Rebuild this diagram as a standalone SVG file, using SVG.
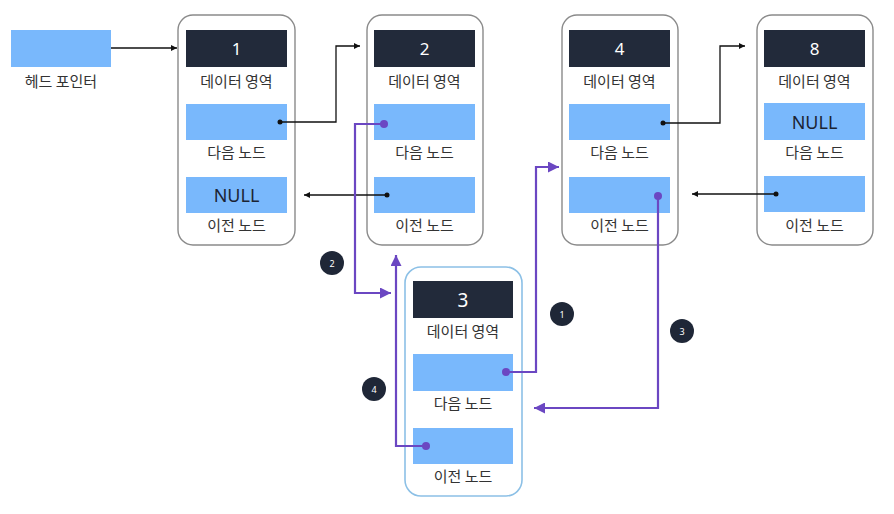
<svg xmlns="http://www.w3.org/2000/svg" width="894" height="514" viewBox="0 0 894 514">
<defs>
<style>
.box{fill:#fff;stroke:#8a8a8a;stroke-width:1.4}
.box3{fill:#fff;stroke:#8cc0e6;stroke-width:1.6}
.dark{fill:#222a3a}
.ptr{fill:#79b8fc}
.num{font-family:"Noto Sans","Noto Sans CJK KR",sans-serif;font-size:17px;fill:#fff;text-anchor:middle}
.lbl{font-family:"Noto Sans CJK KR","Noto Sans",sans-serif;font-size:15px;fill:#333;text-anchor:middle}
.null{font-family:"Noto Sans","Noto Sans CJK KR",sans-serif;font-size:18px;fill:#1c2433;text-anchor:middle}
.bl{fill:none;stroke:#111;stroke-width:1.3}
.pl{fill:none;stroke:#6b47c2;stroke-width:2.2}
.bd{fill:#111}
.pd{fill:#6b47c2}
.badge{fill:#1f2737}
.bt{font-family:"Noto Sans",sans-serif;font-size:9px;fill:#fff;text-anchor:middle}
</style>
<marker id="ab" viewBox="0 0 10 10" refX="10" refY="5" markerWidth="6" markerHeight="6" markerUnits="userSpaceOnUse" orient="auto"><path d="M0,0 L10,5 L0,10 z" fill="#111"/></marker>
<marker id="ap" viewBox="0 0 10 10" refX="10" refY="5" markerWidth="11" markerHeight="11" markerUnits="userSpaceOnUse" orient="auto"><path d="M0,0 L10,5 L0,10 z" fill="#6b47c2"/></marker>
</defs>
<rect width="894" height="514" fill="#fff"/>

<g id="head">
<rect class="ptr" x="11" y="30" width="100" height="37"/>
<text class="lbl" x="61" y="87">헤드 포인터</text>
</g>

<g id="node1">
<rect class="box" x="178" y="15" width="117" height="230" rx="15"/>
<rect class="dark" x="186" y="30" width="101" height="37"/>
<text class="num" x="236.5" y="54.5">1</text>
<text class="lbl" x="236.5" y="87">데이터 영역</text>
<rect class="ptr" x="186" y="104" width="101" height="36"/>
<text class="lbl" x="236.5" y="158">다음 노드</text>
<rect class="ptr" x="186" y="177" width="101" height="36"/>
<text class="null" x="236.5" y="201.5">NULL</text>
<text class="lbl" x="236.5" y="231">이전 노드</text>
</g>

<g id="node2">
<rect class="box" x="367" y="15" width="116" height="230" rx="15"/>
<rect class="dark" x="374" y="30" width="101" height="37"/>
<text class="num" x="424.5" y="54.5">2</text>
<text class="lbl" x="424.5" y="87">데이터 영역</text>
<rect class="ptr" x="374" y="104" width="101" height="36"/>
<text class="lbl" x="424.5" y="158">다음 노드</text>
<rect class="ptr" x="374" y="177" width="101" height="36"/>
<text class="lbl" x="424.5" y="231">이전 노드</text>
</g>

<g id="node4">
<rect class="box" x="562" y="15" width="116" height="230" rx="15"/>
<rect class="dark" x="569" y="30" width="101" height="37"/>
<text class="num" x="619.5" y="54.5">4</text>
<text class="lbl" x="619.5" y="87">데이터 영역</text>
<rect class="ptr" x="569" y="104" width="101" height="36"/>
<text class="lbl" x="619.5" y="158">다음 노드</text>
<rect class="ptr" x="569" y="177" width="101" height="36"/>
<text class="lbl" x="619.5" y="231">이전 노드</text>
</g>

<g id="node8">
<rect class="box" x="757" y="15" width="116" height="230" rx="15"/>
<rect class="dark" x="764" y="30" width="101" height="37"/>
<text class="num" x="814.5" y="54.5">8</text>
<text class="lbl" x="814.5" y="87">데이터 영역</text>
<rect class="ptr" x="764" y="103" width="101" height="37"/>
<text class="null" x="814.5" y="128.5">NULL</text>
<text class="lbl" x="814.5" y="158">다음 노드</text>
<rect class="ptr" x="764" y="176" width="101" height="36"/>
<text class="lbl" x="814.5" y="231">이전 노드</text>
</g>

<g id="node3">
<rect class="box3" x="405" y="267" width="117" height="229" rx="16"/>
<rect class="dark" x="413" y="281" width="100" height="37"/>
<text class="num" x="463" y="306.5" style="font-size:19px">3</text>
<text class="lbl" x="463" y="337">데이터 영역</text>
<rect class="ptr" x="413" y="354" width="100" height="37"/>
<text class="lbl" x="463" y="409">다음 노드</text>
<rect class="ptr" x="413" y="428" width="100" height="36"/>
<text class="lbl" x="463" y="482">이전 노드</text>
</g>

<g id="connectors">
<path class="bl" d="M111,48 H177" marker-end="url(#ab)"/>
<circle class="bd" cx="280" cy="122" r="2.5"/>
<path class="bl" d="M280,122 H336 V46 H360" marker-end="url(#ab)"/>
<circle class="bd" cx="387" cy="195" r="2.5"/>
<path class="bl" d="M387,195 H304" marker-end="url(#ab)"/>
<circle class="bd" cx="663" cy="123" r="2.5"/>
<path class="bl" d="M663,123 H720 V46 H745" marker-end="url(#ab)"/>
<circle class="bd" cx="776" cy="194" r="2.5"/>
<path class="bl" d="M776,194 H692" marker-end="url(#ab)"/>

<circle class="pd" cx="384" cy="124" r="4"/>
<path class="pl" d="M384,124 H355 V293 H391" marker-end="url(#ap)"/>
<circle class="pd" cx="426" cy="446" r="4"/>
<path class="pl" d="M426,446 H396 V255" marker-end="url(#ap)"/>
<circle class="pd" cx="506" cy="372" r="4"/>
<path class="pl" d="M506,372 H536 V167 H559" marker-end="url(#ap)"/>
<circle class="pd" cx="658" cy="196" r="4"/>
<path class="pl" d="M658,196 V408 H534" marker-end="url(#ap)"/>

<circle class="badge" cx="332" cy="263" r="12"/>
<text class="bt" x="332" y="266.5">2</text>
<circle class="badge" cx="562" cy="314" r="12"/>
<text class="bt" x="562" y="317.5">1</text>
<circle class="badge" cx="682" cy="331" r="12"/>
<text class="bt" x="682" y="334.5">3</text>
<circle class="badge" cx="374" cy="389" r="12"/>
<text class="bt" x="374" y="392.5">4</text>
</g>
</svg>
